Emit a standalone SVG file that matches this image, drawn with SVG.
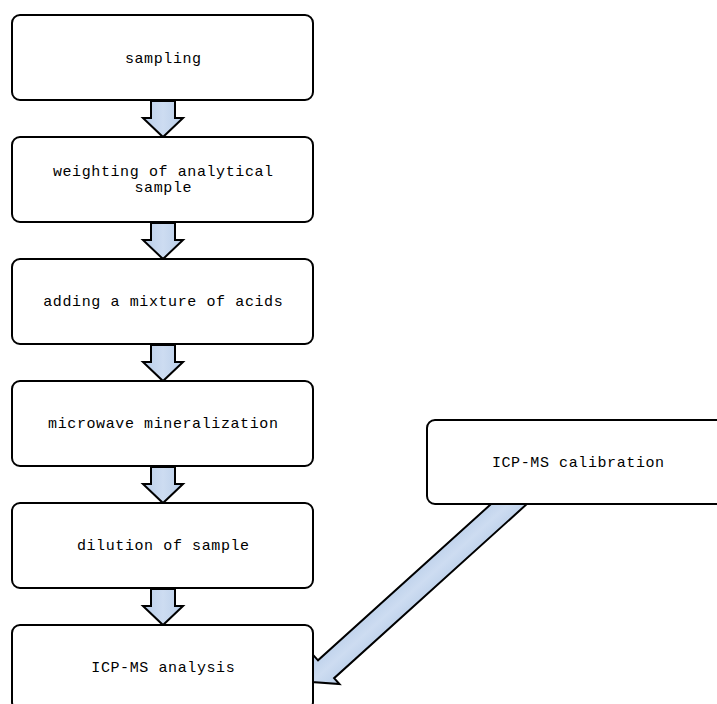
<svg xmlns="http://www.w3.org/2000/svg" width="717" height="704" viewBox="0 0 717 704">
  <defs>
    <linearGradient id="arrowFill" x1="0" y1="0" x2="1" y2="0">
      <stop offset="0" stop-color="#b9cee9"/>
      <stop offset="0.5" stop-color="#cddcf1"/>
      <stop offset="1" stop-color="#b9cee9"/>
    </linearGradient>
    <!-- block arrow pointing down, tip at (0,36) -->
    <path id="shortArrow" d="M-12,0 H12 V17 H20 L0,36 L-20,17 H-12 Z"/>
  </defs>
  <style>
    .box { fill: #ffffff; stroke: #000000; stroke-width: 2; }
    .arrow { fill: url(#arrowFill); stroke: #000000; stroke-width: 2; stroke-linejoin: miter; }
    .label { font-family: "Courier New", "Nimbus Mono PS", "FreeMono", "Liberation Mono", monospace; font-size: 15px; letter-spacing: 0.6px; fill: #000000; text-anchor: middle; }
  </style>
  <rect width="717" height="704" fill="#ffffff"/>

  <g id="connectors">
    <use href="#shortArrow" class="arrow" transform="translate(163,101)"/>
    <use href="#shortArrow" class="arrow" transform="translate(163,223)"/>
    <use href="#shortArrow" class="arrow" transform="translate(163,345)"/>
    <use href="#shortArrow" class="arrow" transform="translate(163,467)"/>
    <use href="#shortArrow" class="arrow" transform="translate(163,589)"/>
    <!-- calibration feeds the analysis step -->
    <path class="arrow" transform="translate(523.8,490.6) rotate(47.9)" d="M-12,0 H12 V266.5 H20 L0,285.5 L-20,266.5 H-12 Z"/>
  </g>

  <g id="sampling">
    <rect class="box" x="12" y="15" width="301" height="85" rx="8"/>
    <text class="label" x="163.3" y="62.5">sampling</text>
  </g>
  <g id="weighting">
    <rect class="box" x="12" y="137" width="301" height="85" rx="8"/>
    <text class="label" x="163.3" y="176">weighting of analytical</text>
    <text class="label" x="163.3" y="192">sample</text>
  </g>
  <g id="acids">
    <rect class="box" x="12" y="259" width="301" height="85" rx="8"/>
    <text class="label" x="163.3" y="306">adding a mixture of acids</text>
  </g>
  <g id="mineralization">
    <rect class="box" x="12" y="381" width="301" height="85" rx="8"/>
    <text class="label" x="163.3" y="428">microwave mineralization</text>
  </g>
  <g id="dilution">
    <rect class="box" x="12" y="503" width="301" height="85" rx="8"/>
    <text class="label" x="163.3" y="550">dilution of sample</text>
  </g>
  <g id="analysis">
    <rect class="box" x="12" y="625" width="301" height="85" rx="8"/>
    <text class="label" x="163.3" y="672">ICP-MS analysis</text>
  </g>
  <g id="calibration">
    <rect class="box" x="427" y="420" width="301" height="84" rx="8"/>
    <text class="label" x="578.3" y="467">ICP-MS calibration</text>
  </g>
</svg>
